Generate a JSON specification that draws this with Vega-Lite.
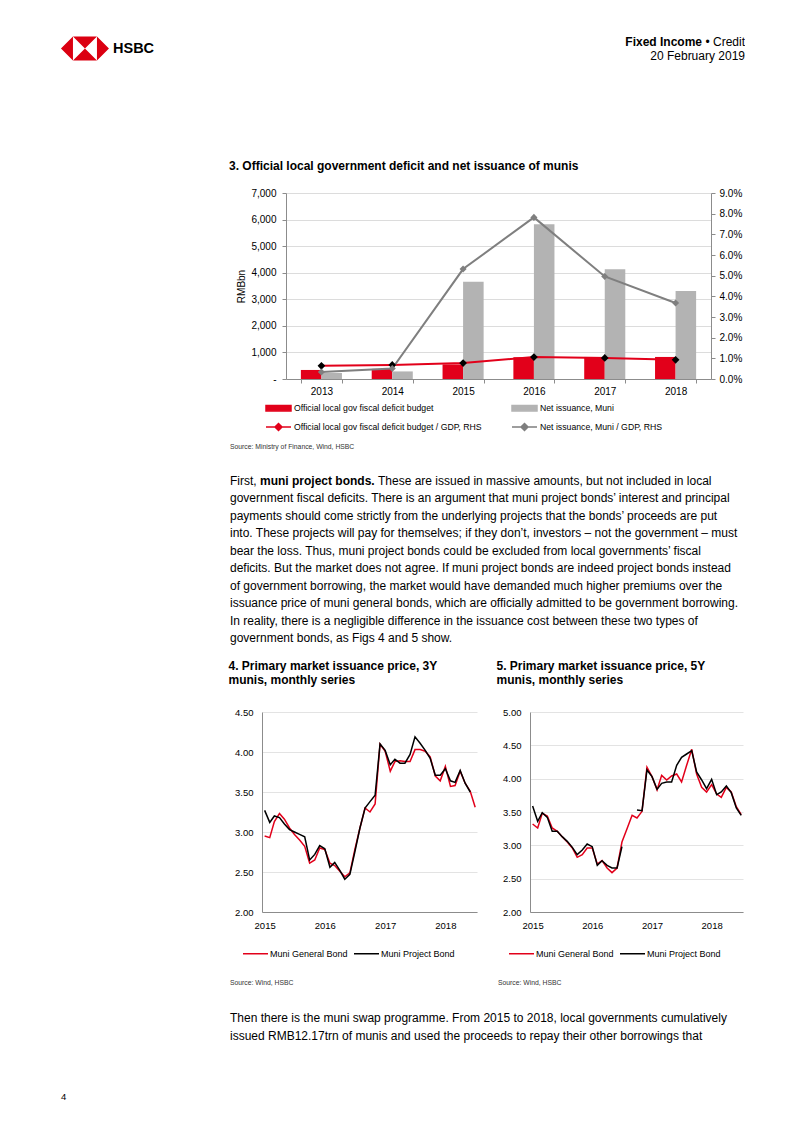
{
"$schema":"https://vega.github.io/schema/vega-lite/v6.json",
"background":"white",
"padding":{"left":60,"top":36,"right":0,"bottom":0},
"config":{
 "font":"Liberation Sans",
 "view":{"stroke":null},
 "axis":{"labelFont":"Liberation Sans","titleFont":"Liberation Sans","labelColor":"#000000","titleColor":"#000000","domainColor":"#8c8c8c","tickColor":"#8c8c8c","gridColor":"#e0e0e0"},
 "legend":{"labelFont":"Liberation Sans","labelColor":"#000000"},
 "title":{"font":"Liberation Sans","color":"#000000"},
 "text":{"font":"Liberation Sans","color":"#000000"}
},
"datasets":{
 "page":[{"item":"logo","slot":"header"},{"item":"HSBC","slot":"header"},{"item":"4","slot":"footer"}],
 "header":[{"block":"h","line":1,"part":"bold","text":"Fixed Income"},{"block":"h","line":1,"part":"normal","text":"• Credit"},{"block":"h","line":2,"part":"normal","text":"20 February 2019"}],
 "src3":[{"block":"s","line":1,"text":"Source: Ministry of Finance, Wind, HSBC"}],
 "para1":[
  {"block":"p","line":1,"part":"a","text":"First,"},
  {"block":"p","line":1,"part":"b","text":"muni project bonds."},
  {"block":"p","line":1,"part":"c","text":"These are issued in massive amounts, but not included in local"},
  {"block":"p","line":2,"part":"a","text":"government fiscal deficits. There is an argument that muni project bonds’ interest and principal"},
  {"block":"p","line":3,"part":"a","text":"payments should come strictly from the underlying projects that the bonds’ proceeds are put"},
  {"block":"p","line":4,"part":"a","text":"into. These projects will pay for themselves; if they don’t, investors – not the government – must"},
  {"block":"p","line":5,"part":"a","text":"bear the loss. Thus, muni project bonds could be excluded from local governments’ fiscal"},
  {"block":"p","line":6,"part":"a","text":"deficits. But the market does not agree. If muni project bonds are indeed project bonds instead"},
  {"block":"p","line":7,"part":"a","text":"of government borrowing, the market would have demanded much higher premiums over the"},
  {"block":"p","line":8,"part":"a","text":"issuance price of muni general bonds, which are officially admitted to be government borrowing."},
  {"block":"p","line":9,"part":"a","text":"In reality, there is a negligible difference in the issuance cost between these two types of"},
  {"block":"p","line":10,"part":"a","text":"government bonds, as Figs 4 and 5 show."}
 ],
 "src45":[{"chart":"4","line":1,"text":"Source: Wind, HSBC"},{"chart":"5","line":1,"text":"Source: Wind, HSBC"}],
 "para2":[
  {"block":"q","line":1,"text":"Then there is the muni swap programme. From 2015 to 2018, local governments cumulatively"},
  {"block":"q","line":2,"text":"issued RMB12.17trn of munis and used the proceeds to repay their other borrowings that"}
 ],
 "fiscal":[
  {"year":"2013","series":"Official local gov fiscal deficit budget","value":340},
  {"year":"2014","series":"Official local gov fiscal deficit budget","value":380},
  {"year":"2015","series":"Official local gov fiscal deficit budget","value":550},
  {"year":"2016","series":"Official local gov fiscal deficit budget","value":820},
  {"year":"2017","series":"Official local gov fiscal deficit budget","value":830},
  {"year":"2018","series":"Official local gov fiscal deficit budget","value":830},
  {"year":"2013","series":"Net issuance, Muni","value":225},
  {"year":"2014","series":"Net issuance, Muni","value":285},
  {"year":"2015","series":"Net issuance, Muni","value":3660},
  {"year":"2016","series":"Net issuance, Muni","value":5820},
  {"year":"2017","series":"Net issuance, Muni","value":4130},
  {"year":"2018","series":"Net issuance, Muni","value":3310},
  {"year":"2013","series":"Official local gov fiscal deficit budget / GDP, RHS","value":0.0064},
  {"year":"2014","series":"Official local gov fiscal deficit budget / GDP, RHS","value":0.0068},
  {"year":"2015","series":"Official local gov fiscal deficit budget / GDP, RHS","value":0.0077},
  {"year":"2016","series":"Official local gov fiscal deficit budget / GDP, RHS","value":0.0106},
  {"year":"2017","series":"Official local gov fiscal deficit budget / GDP, RHS","value":0.0102},
  {"year":"2018","series":"Official local gov fiscal deficit budget / GDP, RHS","value":0.0093},
  {"year":"2013","series":"Net issuance, Muni / GDP, RHS","value":0.0034},
  {"year":"2014","series":"Net issuance, Muni / GDP, RHS","value":0.0051},
  {"year":"2015","series":"Net issuance, Muni / GDP, RHS","value":0.0532},
  {"year":"2016","series":"Net issuance, Muni / GDP, RHS","value":0.0782},
  {"year":"2017","series":"Net issuance, Muni / GDP, RHS","value":0.0496},
  {"year":"2018","series":"Net issuance, Muni / GDP, RHS","value":0.0368}
 ],
 "muni3y":[
  {"date":"2015/01/01","s":"Muni General Bond","v":2.95},{"date":"2015/02/01","s":"Muni General Bond","v":2.93},{"date":"2015/03/01","s":"Muni General Bond","v":3.13},{"date":"2015/04/01","s":"Muni General Bond","v":3.23},{"date":"2015/05/01","s":"Muni General Bond","v":3.16},{"date":"2015/06/01","s":"Muni General Bond","v":3.05},{"date":"2015/07/01","s":"Muni General Bond","v":2.97},{"date":"2015/08/01","s":"Muni General Bond","v":2.90},{"date":"2015/09/01","s":"Muni General Bond","v":2.82},{"date":"2015/10/01","s":"Muni General Bond","v":2.61},{"date":"2015/11/01","s":"Muni General Bond","v":2.65},{"date":"2015/12/01","s":"Muni General Bond","v":2.80},
  {"date":"2016/01/01","s":"Muni General Bond","v":2.78},{"date":"2016/02/01","s":"Muni General Bond","v":2.61},{"date":"2016/03/01","s":"Muni General Bond","v":2.58},{"date":"2016/04/01","s":"Muni General Bond","v":2.51},{"date":"2016/05/01","s":"Muni General Bond","v":2.44},{"date":"2016/06/01","s":"Muni General Bond","v":2.49},{"date":"2016/07/01","s":"Muni General Bond","v":2.78},{"date":"2016/08/01","s":"Muni General Bond","v":3.05},{"date":"2016/09/01","s":"Muni General Bond","v":3.30},{"date":"2016/10/01","s":"Muni General Bond","v":3.25},{"date":"2016/11/01","s":"Muni General Bond","v":3.35},{"date":"2016/12/01","s":"Muni General Bond","v":4.10},
  {"date":"2017/01/01","s":"Muni General Bond","v":4.01},{"date":"2017/02/01","s":"Muni General Bond","v":3.76},{"date":"2017/03/01","s":"Muni General Bond","v":3.88},{"date":"2017/04/01","s":"Muni General Bond","v":3.89},{"date":"2017/05/01","s":"Muni General Bond","v":3.88},{"date":"2017/06/01","s":"Muni General Bond","v":3.88},{"date":"2017/07/01","s":"Muni General Bond","v":4.03},{"date":"2017/08/01","s":"Muni General Bond","v":4.03},{"date":"2017/09/01","s":"Muni General Bond","v":4.01},{"date":"2017/10/01","s":"Muni General Bond","v":3.94},{"date":"2017/11/01","s":"Muni General Bond","v":3.70},{"date":"2017/12/01","s":"Muni General Bond","v":3.64},
  {"date":"2018/01/01","s":"Muni General Bond","v":3.82},{"date":"2018/02/01","s":"Muni General Bond","v":3.57},{"date":"2018/03/01","s":"Muni General Bond","v":3.58},{"date":"2018/04/01","s":"Muni General Bond","v":3.76},{"date":"2018/05/01","s":"Muni General Bond","v":3.61},{"date":"2018/06/01","s":"Muni General Bond","v":3.51},{"date":"2018/07/01","s":"Muni General Bond","v":3.31},
  {"date":"2015/01/01","s":"Muni Project Bond","v":3.27},{"date":"2015/02/01","s":"Muni Project Bond","v":3.12},{"date":"2015/03/01","s":"Muni Project Bond","v":3.20},{"date":"2015/04/01","s":"Muni Project Bond","v":3.18},{"date":"2015/05/01","s":"Muni Project Bond","v":3.10},{"date":"2015/06/01","s":"Muni Project Bond","v":3.03},{"date":"2015/07/01","s":"Muni Project Bond","v":3.00},{"date":"2015/08/01","s":"Muni Project Bond","v":2.97},{"date":"2015/09/01","s":"Muni Project Bond","v":2.94},{"date":"2015/10/01","s":"Muni Project Bond","v":2.65},{"date":"2015/11/01","s":"Muni Project Bond","v":2.72},{"date":"2015/12/01","s":"Muni Project Bond","v":2.83},
  {"date":"2016/01/01","s":"Muni Project Bond","v":2.79},{"date":"2016/02/01","s":"Muni Project Bond","v":2.56},{"date":"2016/03/01","s":"Muni Project Bond","v":2.62},{"date":"2016/04/01","s":"Muni Project Bond","v":2.52},{"date":"2016/05/01","s":"Muni Project Bond","v":2.41},{"date":"2016/06/01","s":"Muni Project Bond","v":2.47},{"date":"2016/07/01","s":"Muni Project Bond","v":2.75},{"date":"2016/08/01","s":"Muni Project Bond","v":3.05},{"date":"2016/09/01","s":"Muni Project Bond","v":3.30},{"date":"2016/10/01","s":"Muni Project Bond","v":3.38},{"date":"2016/11/01","s":"Muni Project Bond","v":3.46},{"date":"2016/12/01","s":"Muni Project Bond","v":4.10},
  {"date":"2017/01/01","s":"Muni Project Bond","v":4.02},{"date":"2017/02/01","s":"Muni Project Bond","v":3.84},{"date":"2017/03/01","s":"Muni Project Bond","v":3.91},{"date":"2017/04/01","s":"Muni Project Bond","v":3.86},{"date":"2017/05/01","s":"Muni Project Bond","v":3.86},{"date":"2017/06/01","s":"Muni Project Bond","v":3.97},{"date":"2017/07/01","s":"Muni Project Bond","v":4.19},{"date":"2017/08/01","s":"Muni Project Bond","v":4.11},{"date":"2017/09/01","s":"Muni Project Bond","v":4.02},{"date":"2017/10/01","s":"Muni Project Bond","v":3.92},{"date":"2017/11/01","s":"Muni Project Bond","v":3.71},{"date":"2017/12/01","s":"Muni Project Bond","v":3.71},
  {"date":"2018/01/01","s":"Muni Project Bond","v":3.79},{"date":"2018/02/01","s":"Muni Project Bond","v":3.64},{"date":"2018/03/01","s":"Muni Project Bond","v":3.62},{"date":"2018/04/01","s":"Muni Project Bond","v":3.77},{"date":"2018/05/01","s":"Muni Project Bond","v":3.61},{"date":"2018/06/01","s":"Muni Project Bond","v":3.50}
 ],
 "muni5y":[
  {"date":"2015/01/01","s":"Muni General Bond","v":3.32},{"date":"2015/02/01","s":"Muni General Bond","v":3.26},{"date":"2015/03/01","s":"Muni General Bond","v":3.48},{"date":"2015/04/01","s":"Muni General Bond","v":3.44},{"date":"2015/05/01","s":"Muni General Bond","v":3.26},{"date":"2015/06/01","s":"Muni General Bond","v":3.21},{"date":"2015/07/01","s":"Muni General Bond","v":3.13},{"date":"2015/08/01","s":"Muni General Bond","v":3.05},{"date":"2015/09/01","s":"Muni General Bond","v":2.96},{"date":"2015/10/01","s":"Muni General Bond","v":2.82},{"date":"2015/11/01","s":"Muni General Bond","v":2.86},{"date":"2015/12/01","s":"Muni General Bond","v":2.96},
  {"date":"2016/01/01","s":"Muni General Bond","v":2.96},{"date":"2016/02/01","s":"Muni General Bond","v":2.72},{"date":"2016/03/01","s":"Muni General Bond","v":2.77},{"date":"2016/04/01","s":"Muni General Bond","v":2.66},{"date":"2016/05/01","s":"Muni General Bond","v":2.59},{"date":"2016/06/01","s":"Muni General Bond","v":2.66},{"date":"2016/07/01","s":"Muni General Bond","v":3.05},{"date":"2016/08/01","s":"Muni General Bond","v":3.25},{"date":"2016/09/01","s":"Muni General Bond","v":3.45},{"date":"2016/10/01","s":"Muni General Bond","v":3.41},{"date":"2016/11/01","s":"Muni General Bond","v":3.51},{"date":"2016/12/01","s":"Muni General Bond","v":4.17},
  {"date":"2017/01/01","s":"Muni General Bond","v":4.03},{"date":"2017/02/01","s":"Muni General Bond","v":3.83},{"date":"2017/03/01","s":"Muni General Bond","v":4.05},{"date":"2017/04/01","s":"Muni General Bond","v":3.98},{"date":"2017/05/01","s":"Muni General Bond","v":4.04},{"date":"2017/06/01","s":"Muni General Bond","v":4.07},{"date":"2017/07/01","s":"Muni General Bond","v":3.95},{"date":"2017/08/01","s":"Muni General Bond","v":4.20},{"date":"2017/09/01","s":"Muni General Bond","v":4.44},{"date":"2017/10/01","s":"Muni General Bond","v":4.07},{"date":"2017/11/01","s":"Muni General Bond","v":3.87},{"date":"2017/12/01","s":"Muni General Bond","v":3.80},
  {"date":"2018/01/01","s":"Muni General Bond","v":3.91},{"date":"2018/02/01","s":"Muni General Bond","v":3.77},{"date":"2018/03/01","s":"Muni General Bond","v":3.72},{"date":"2018/04/01","s":"Muni General Bond","v":3.87},{"date":"2018/05/01","s":"Muni General Bond","v":3.80},{"date":"2018/06/01","s":"Muni General Bond","v":3.58},{"date":"2018/07/01","s":"Muni General Bond","v":3.46},
  {"date":"2015/01/01","s":"Muni Project Bond","v":3.59},{"date":"2015/02/01","s":"Muni Project Bond","v":3.36},{"date":"2015/03/01","s":"Muni Project Bond","v":3.49},{"date":"2015/04/01","s":"Muni Project Bond","v":3.42},{"date":"2015/05/01","s":"Muni Project Bond","v":3.21},{"date":"2015/06/01","s":"Muni Project Bond","v":3.21},{"date":"2015/07/01","s":"Muni Project Bond","v":3.13},{"date":"2015/08/01","s":"Muni Project Bond","v":3.06},{"date":"2015/09/01","s":"Muni Project Bond","v":2.97},{"date":"2015/10/01","s":"Muni Project Bond","v":2.86},{"date":"2015/11/01","s":"Muni Project Bond","v":2.93},{"date":"2015/12/01","s":"Muni Project Bond","v":3.02},
  {"date":"2016/01/01","s":"Muni Project Bond","v":2.98},{"date":"2016/02/01","s":"Muni Project Bond","v":2.70},{"date":"2016/03/01","s":"Muni Project Bond","v":2.77},{"date":"2016/04/01","s":"Muni Project Bond","v":2.70},{"date":"2016/05/01","s":"Muni Project Bond","v":2.66},{"date":"2016/06/01","s":"Muni Project Bond","v":2.66},{"date":"2016/07/01","s":"Muni Project Bond","v":2.98},{"date":"2016/08/01","s":"Muni Project Bond","v":null},{"date":"2016/09/01","s":"Muni Project Bond","v":null},{"date":"2016/10/01","s":"Muni Project Bond","v":3.53},{"date":"2016/11/01","s":"Muni Project Bond","v":3.52},{"date":"2016/12/01","s":"Muni Project Bond","v":4.13},
  {"date":"2017/01/01","s":"Muni Project Bond","v":4.03},{"date":"2017/02/01","s":"Muni Project Bond","v":3.84},{"date":"2017/03/01","s":"Muni Project Bond","v":3.93},{"date":"2017/04/01","s":"Muni Project Bond","v":3.95},{"date":"2017/05/01","s":"Muni Project Bond","v":3.95},{"date":"2017/06/01","s":"Muni Project Bond","v":4.20},{"date":"2017/07/01","s":"Muni Project Bond","v":4.32},{"date":"2017/08/01","s":"Muni Project Bond","v":4.37},{"date":"2017/09/01","s":"Muni Project Bond","v":4.42},{"date":"2017/10/01","s":"Muni Project Bond","v":4.10},{"date":"2017/11/01","s":"Muni Project Bond","v":3.98},{"date":"2017/12/01","s":"Muni Project Bond","v":3.85},
  {"date":"2018/01/01","s":"Muni Project Bond","v":3.99},{"date":"2018/02/01","s":"Muni Project Bond","v":3.76},{"date":"2018/03/01","s":"Muni Project Bond","v":3.80},{"date":"2018/04/01","s":"Muni Project Bond","v":3.89},{"date":"2018/05/01","s":"Muni Project Bond","v":3.79},{"date":"2018/06/01","s":"Muni Project Bond","v":3.56},{"date":"2018/07/01","s":"Muni Project Bond","v":3.45}
 ]
},
"hconcat":[
 {
  "width":52,"height":1055,
  "data":{"name":"page"},
  "layer":[
   {"transform":[{"filter":"datum.item == 'logo'"}],
    "mark":{"type":"point","shape":"M-2.17,0.54L-1.17,-0.46L-1.17,1.54ZM-1.17,-0.46L0.83,-0.46L-0.17,0.54ZM-1.17,1.54L0.83,1.54L-0.17,0.54ZM1.83,0.54L0.83,-0.46L0.83,1.54Z","filled":true,"color":"#db0011","size":576,"opacity":1},
    "encoding":{"x":{"field":"item","type":"nominal","scale":{"type":"point","domain":["4","logo","HSBC"],"padding":0},"axis":null},"y":{"field":"slot","type":"nominal","scale":{"type":"point","domain":["header","footer"],"padding":0},"axis":null}}},
   {"transform":[{"filter":"datum.item == 'HSBC'"}],
    "mark":{"type":"text","align":"left","baseline":"top","fontSize":14.5,"fontWeight":"bold","color":"#000000"},
    "encoding":{"x":{"field":"item","type":"nominal","scale":{"type":"point","domain":["4","logo","HSBC"],"padding":0},"axis":null},"y":{"field":"slot","type":"nominal","scale":{"type":"point","domain":["header","footer"],"padding":0},"axis":null},"text":{"field":"item"}}},
   {"transform":[{"filter":"datum.item == '4'"}],
    "mark":{"type":"text","align":"left","baseline":"middle","fontSize":9.5,"color":"#000000"},
    "encoding":{"x":{"field":"item","type":"nominal","scale":{"type":"point","domain":["4","logo","HSBC"],"padding":0},"axis":null},"y":{"field":"slot","type":"nominal","scale":{"type":"point","domain":["header","footer"],"padding":0},"axis":null},"text":{"field":"item"}}}
  ]
 },
 {
  "vconcat":[
   {
    "width":515,"height":151,
    "data":{"name":"header"},
    "encoding":{
     "x":{"field":"block","type":"nominal","scale":{"type":"point","padding":0,"align":1},"axis":null},
     "y":{"field":"line","type":"ordinal","scale":{"type":"point","padding":0,"range":[0,14]},"axis":null},
     "text":{"field":"text"}
    },
    "layer":[
     {"transform":[{"filter":"datum.part == 'normal'"}],"mark":{"type":"text","align":"right","baseline":"middle","fontSize":12,"color":"#000000"}},
     {"transform":[{"filter":"datum.part == 'bold'"}],"mark":{"type":"text","align":"right","baseline":"middle","fontSize":12,"fontWeight":"bold","dx":-43,"color":"#000000"}}
    ]
   },
   {
    "hconcat":[
     {"width":56,"height":186,"data":{"values":[{"k":""}]},"mark":{"type":"text"},"encoding":{"text":{"field":"k"}}},
     {
      "width":425,"height":186,
      "data":{"name":"fiscal"},
      "title":{"text":"3. Official local government deficit and net issuance of munis","anchor":"start","frame":"bounds","fontSize":12,"fontWeight":"bold","offset":15,"dx":-8},
      "layer":[
       {
        "transform":[{"filter":{"field":"series","oneOf":["Official local gov fiscal deficit budget","Net issuance, Muni"]}}],
        "mark":{"type":"bar"},
        "encoding":{
         "x":{"field":"year","type":"nominal","scale":{"paddingInner":0.42,"paddingOuter":0.21},"axis":{"title":null,"labelAngle":0,"labelFontSize":10,"tickBand":"extent","tickSize":4,"labelPadding":3}},
         "xOffset":{"field":"series","type":"nominal","scale":{"domain":["Official local gov fiscal deficit budget","Net issuance, Muni"]}},
         "y":{"field":"value","type":"quantitative","scale":{"domain":[0,7000]},"axis":{"title":"RMBbn","titleFontSize":10,"titleFontWeight":"normal","titlePadding":4,"values":[0,1000,2000,3000,4000,5000,6000,7000],"labelExpr":"datum.value == 0 ? '-' : format(datum.value, ',')","labelFontSize":10,"tickSize":4,"labelPadding":6,"grid":true,"gridColor":"#dcdcdc"}},
         "color":{"field":"series","type":"nominal",
          "scale":{"domain":["Official local gov fiscal deficit budget","Official local gov fiscal deficit budget / GDP, RHS","Net issuance, Muni","Net issuance, Muni / GDP, RHS"],"range":["#e2001a","#e2001a","#b3b3b3","#7f7f7f"]},
          "legend":{"orient":"none","legendX":-13.5,"legendY":209,"columns":2,"title":null,"symbolSize":100,"symbolStrokeWidth":1.5,"labelFontSize":8.7,"labelOffset":9.5,"labelLimit":400,"rowPadding":6,"columnPadding":26,"padding":0,
           "encode":{"symbols":{"update":{
            "shape":{"signal":"indexof(datum.value, 'GDP') >= 0 ? 'M-2.5,0H2.5M0,-0.7L0.7,0L0,0.7L-0.7,0Z' : 'M-2.5,-0.55H2.5V0.55H-2.5Z'"},
            "fill":{"signal":"datum.value == 'Official local gov fiscal deficit budget / GDP, RHS' ? '#000000' : datum.value == 'Net issuance, Muni / GDP, RHS' ? '#7f7f7f' : datum.value == 'Net issuance, Muni' ? '#b3b3b3' : '#e2001a'"},
            "stroke":{"signal":"datum.value == 'Official local gov fiscal deficit budget / GDP, RHS' ? '#e2001a' : datum.value == 'Net issuance, Muni / GDP, RHS' ? '#7f7f7f' : 'transparent'"},
            "opacity":{"value":1},"fillOpacity":{"value":1},"strokeOpacity":{"value":1}
           }}}
          }}
        }
       },
       {
        "transform":[{"filter":{"field":"series","oneOf":["Official local gov fiscal deficit budget / GDP, RHS","Net issuance, Muni / GDP, RHS"]}}],
        "encoding":{
         "x":{"field":"year","type":"nominal"},
         "y":{"field":"value","type":"quantitative","scale":{"domain":[0,0.09]},"axis":{"orient":"right","title":null,"values":[0,0.01,0.02,0.03,0.04,0.05,0.06,0.07,0.08,0.09],"format":".1%","labelFontSize":10,"tickSize":4,"labelPadding":4,"grid":false}}
        },
        "layer":[
         {"mark":{"type":"line","strokeWidth":2},"encoding":{"color":{"field":"series","type":"nominal"}}},
         {"transform":[{"filter":{"field":"series","equal":"Official local gov fiscal deficit budget / GDP, RHS"}}],"mark":{"type":"point","shape":"diamond","filled":true,"color":"#000000","size":60,"opacity":1}},
         {"transform":[{"filter":{"field":"series","equal":"Net issuance, Muni / GDP, RHS"}}],"mark":{"type":"point","shape":"diamond","filled":true,"color":"#7f7f7f","size":50,"opacity":1}}
        ]
       }
      ],
      "resolve":{"scale":{"y":"independent"},"axis":{"y":"independent"}}
     }
    ],
    "spacing":0,"bounds":"flush",
    "resolve":{"scale":{"x":"independent","y":"independent","color":"independent"},"legend":{"color":"independent"}}
   },
   {
    "width":515,"height":254,
    "data":{"name":"src3"},
    "mark":{"type":"text","align":"left","baseline":"middle","fontSize":6.8,"color":"#333333"},
    "encoding":{
     "x":{"field":"block","type":"nominal","scale":{"type":"point","padding":0,"align":0},"axis":null},
     "y":{"field":"line","type":"ordinal","scale":{"type":"point","padding":0,"range":[254,254]},"axis":null},
     "text":{"field":"text"}
    }
   },
   {
    "width":515,"height":265,
    "data":{"name":"para1"},
    "encoding":{
     "x":{"field":"block","type":"nominal","scale":{"type":"point","padding":0,"align":0},"axis":null},
     "y":{"field":"line","type":"ordinal","scale":{"type":"point","padding":0,"range":[33.5,191]},"axis":null},
     "text":{"field":"text"}
    },
    "layer":[
     {"transform":[{"filter":"datum.part == 'a'"}],"mark":{"type":"text","align":"left","baseline":"middle","fontSize":12,"color":"#000000"}},
     {"transform":[{"filter":"datum.part == 'b'"}],"mark":{"type":"text","align":"left","baseline":"middle","fontSize":12,"fontWeight":"bold","dx":30,"color":"#000000"}},
     {"transform":[{"filter":"datum.part == 'c'"}],"mark":{"type":"text","align":"left","baseline":"middle","fontSize":12,"dx":148,"color":"#000000"}}
    ]
   },
   {
    "hconcat":[
     {"width":32,"height":200,"data":{"values":[{"k":""}]},"mark":{"type":"text"},"encoding":{"text":{"field":"k"}}},
     {
      "width":215,"height":200,
      "data":{"name":"muni3y"},
      "title":{"text":["4. Primary market issuance price, 3Y","munis, monthly series"],"anchor":"start","frame":"bounds","fontSize":12,"fontWeight":"bold","lineHeight":14.5,"offset":20,"dx":-6},
      "mark":{"type":"line","strokeWidth":1.5,"invalid":"break-paths-show-domains"},
      "encoding":{
       "x":{"field":"date","type":"temporal","scale":{"domain":[{"year":2014,"month":12,"date":16},{"year":2018,"month":7,"date":12}]},"axis":{"title":null,"format":"%Y","tickCount":{"interval":"year","step":1},"labelFontSize":9.5,"ticks":false,"labelPadding":8,"grid":false,"labelFlush":false}},
       "y":{"field":"v","type":"quantitative","scale":{"domain":[2,4.5]},"axis":{"title":null,"values":[2,2.5,3,3.5,4,4.5],"format":".2f","labelFontSize":9.5,"ticks":false,"labelPadding":9,"grid":true,"gridColor":"#e3e3e3"}},
       "color":{"field":"s","type":"nominal","scale":{"domain":["Muni General Bond","Muni Project Bond"],"range":["#e2001a","#000000"]},
        "legend":{"orient":"none","legendX":-20,"legendY":228,"direction":"horizontal","title":null,"symbolType":"stroke","symbolSize":625,"symbolStrokeWidth":1.5,"labelFontSize":9,"labelOffset":1,"columnPadding":3,"padding":0}}
      }
     },
     {"width":53,"height":200,"data":{"values":[{"k":""}]},"mark":{"type":"text"},"encoding":{"text":{"field":"k"}}},
     {
      "width":213,"height":200,
      "data":{"name":"muni5y"},
      "title":{"text":["5. Primary market issuance price, 5Y","munis, monthly series"],"anchor":"start","frame":"bounds","fontSize":12,"fontWeight":"bold","lineHeight":14.5,"offset":20,"dx":-6},
      "mark":{"type":"line","strokeWidth":1.5,"invalid":"break-paths-show-domains"},
      "encoding":{
       "x":{"field":"date","type":"temporal","scale":{"domain":[{"year":2014,"month":12,"date":16},{"year":2018,"month":7,"date":12}]},"axis":{"title":null,"format":"%Y","tickCount":{"interval":"year","step":1},"labelFontSize":9.5,"ticks":false,"labelPadding":8,"grid":false,"labelFlush":false}},
       "y":{"field":"v","type":"quantitative","scale":{"domain":[2,5]},"axis":{"title":null,"values":[2,2.5,3,3.5,4,4.5,5],"format":".2f","labelFontSize":9.5,"ticks":false,"labelPadding":9,"grid":true,"gridColor":"#e3e3e3"}},
       "color":{"field":"s","type":"nominal","scale":{"domain":["Muni General Bond","Muni Project Bond"],"range":["#e2001a","#000000"]},
        "legend":{"orient":"none","legendX":-22,"legendY":228,"direction":"horizontal","title":null,"symbolType":"stroke","symbolSize":625,"symbolStrokeWidth":1.5,"labelFontSize":9,"labelOffset":1,"columnPadding":3,"padding":0}}
      }
     }
    ],
    "spacing":0,"bounds":"flush",
    "resolve":{"scale":{"x":"independent","y":"independent","color":"independent"},"legend":{"color":"independent"}}
   },
   {
    "width":268,"height":271,
    "data":{"name":"src45"},
    "mark":{"type":"text","align":"left","baseline":"middle","fontSize":6.8,"color":"#333333"},
    "encoding":{
     "x":{"field":"chart","type":"nominal","scale":{"type":"point","padding":0},"axis":null},
     "y":{"field":"line","type":"ordinal","scale":{"type":"point","padding":0,"range":[271,271]},"axis":null},
     "text":{"field":"text"}
    }
   },
   {
    "width":515,"height":60,
    "data":{"name":"para2"},
    "mark":{"type":"text","align":"left","baseline":"middle","fontSize":12,"color":"#000000"},
    "encoding":{
     "x":{"field":"block","type":"nominal","scale":{"type":"point","padding":0,"align":0},"axis":null},
     "y":{"field":"line","type":"ordinal","scale":{"type":"point","padding":0,"range":[35,53]},"axis":null},
     "text":{"field":"text"}
    }
   }
  ],
  "spacing":0,"bounds":"flush",
  "resolve":{"scale":{"x":"independent","y":"independent","color":"independent"},"legend":{"color":"independent"}}
 }
],
"spacing":117,
"bounds":"flush",
"resolve":{"scale":{"x":"independent","y":"independent","color":"independent"},"legend":{"color":"independent"}}
}
